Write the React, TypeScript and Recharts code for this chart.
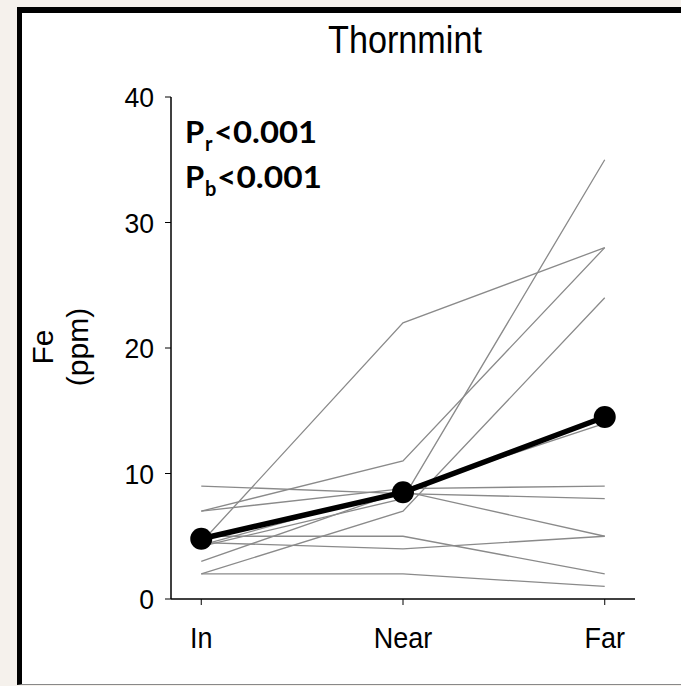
import { Line, LineChart, XAxis, YAxis } from "recharts";

const categories = ["In", "Near", "Far"];
const yTicks = [0, 10, 20, 30, 40];

// individual plants (gray) – In, Near, Far
const plantA = [4.5, 22, 28];
const plantB = [7, 11, 28];
const plantC = [4.2, 8, 35];
const plantD = [2, 7, 24];
const plantE = [4.3, 8.7, 14];
const plantF = [7, 8.8, 9];
const plantG = [9, 8.4, 8];
const plantH = [3, 8.6, 5];
const plantI = [5, 5, 2];
const plantJ = [4.5, 4, 5];
const plantK = [2, 2, 1];
const meanFe = [4.8, 8.5, 14.5];

const plants = [plantA, plantB, plantC, plantD, plantE, plantF, plantG, plantH, plantI, plantJ, plantK];

const data = categories.map((name, i) => {
  const row: Record<string, number | string> = { x: i, name, mean: meanFe[i] };
  plants.forEach((p, k) => {
    row[`p${k}`] = p[i];
  });
  return row;
});

const ARIAL = "'Liberation Sans', Arial, sans-serif";

function XTick({ x, y, payload }: any) {
  return (
    <g transform={`translate(${x},${y + 43}) scale(0.9,1)`}>
      <text x={0} y={0} textAnchor="middle" fontSize={30} fontFamily={ARIAL} fill="#000">
        {categories[payload.value]}
      </text>
    </g>
  );
}

function YTick({ x, y, payload }: any) {
  return (
    <g transform={`translate(${x - 11},${y + 10}) scale(0.95,1)`}>
      <text x={0} y={0} textAnchor="end" fontSize={28} fontFamily={ARIAL} fill="#000">
        {payload.value}
      </text>
    </g>
  );
}

export default function App() {
  return (
    <div style={{ position: "relative", width: 681, height: 686, overflow: "hidden", background: "#f5f1ec" }}>
      <style>{"body{margin:0}"}</style>
      <div
        style={{
          position: "absolute",
          left: 17,
          top: 7,
          width: 720,
          height: 678,
          boxSizing: "border-box",
          background: "#fff",
          borderLeft: "5px solid #000",
          borderTop: "6px solid #000",
          borderBottom: "1px solid #888",
        }}
      />
      <div style={{ position: "absolute", left: 0, top: 0 }}>
        <LineChart width={681} height={686} data={data} margin={{ top: 97, right: 46, bottom: 37, left: 111 }}>
          <XAxis
            dataKey="x"
            type="number"
            domain={[-0.15, 2.15]}
            ticks={[0, 1, 2]}
            height={50}
            tickSize={6}
            tickMargin={0}
            stroke="#000"
            axisLine={{ stroke: "#000", strokeWidth: 1.5 }}
            tickLine={{ stroke: "#000", strokeWidth: 1 }}
            tick={<XTick />}
          />
          <XAxis
            xAxisId="top"
            orientation="top"
            dataKey="x"
            type="number"
            domain={[-0.15, 2.15]}
            height={0}
            tick={false}
            tickLine={false}
            axisLine={{ stroke: "#666", strokeWidth: 2 }}
          />
          <YAxis
            domain={[0, 40]}
            ticks={yTicks}
            width={60}
            tickSize={6}
            tickMargin={0}
            axisLine={{ stroke: "#000", strokeWidth: 1.5 }}
            tickLine={{ stroke: "#000", strokeWidth: 1 }}
            tick={<YTick />}
          />
          <YAxis
            yAxisId="right"
            orientation="right"
            domain={[0, 40]}
            width={0}
            tick={false}
            tickLine={false}
            axisLine={{ stroke: "#666", strokeWidth: 2 }}
          />
          {plants.map((_, k) => (
            <Line
              key={k}
              dataKey={`p${k}`}
              stroke="#8a8a8a"
              strokeWidth={1.3}
              dot={false}
              isAnimationActive={false}
            />
          ))}
          <Line
            dataKey="mean"
            stroke="#000"
            strokeWidth={5.5}
            dot={{ r: 11, fill: "#000", stroke: "#000", strokeWidth: 0 }}
            isAnimationActive={false}
          />
        </LineChart>
      </div>
      <svg width={681} height={686} style={{ position: "absolute", left: 0, top: 0, pointerEvents: "none" }}>
        <g transform="translate(405,53) scale(0.9,1)">
          <text x={0} y={0} textAnchor="middle" fontSize={38} fontFamily={ARIAL} fill="#000">
            Thornmint
          </text>
        </g>
        <text transform="translate(53,347) rotate(-90)" textAnchor="middle" fontSize={30} fontFamily={ARIAL} fill="#000">
          Fe
        </text>
        <text transform="translate(88,347) rotate(-90)" textAnchor="middle" fontSize={30} fontFamily={ARIAL} fill="#000">
          (ppm)
        </text>
        <g fontFamily="Lato, 'Open Sans', sans-serif" fontWeight={700} fill="#000">
          <text x={185} y={143} fontSize={31}>P</text>
          <text x={205} y={151} fontSize={20}>r</text>
          <text x={214} y={143} fontSize={31} textLength={103} lengthAdjust="spacingAndGlyphs">&lt;0.001</text>
          <text x={185} y={188} fontSize={31}>P</text>
          <text x={205} y={196} fontSize={20}>b</text>
          <text x={217} y={188} fontSize={31} textLength={105} lengthAdjust="spacingAndGlyphs">&lt;0.001</text>
        </g>
      </svg>
    </div>
  );
}
